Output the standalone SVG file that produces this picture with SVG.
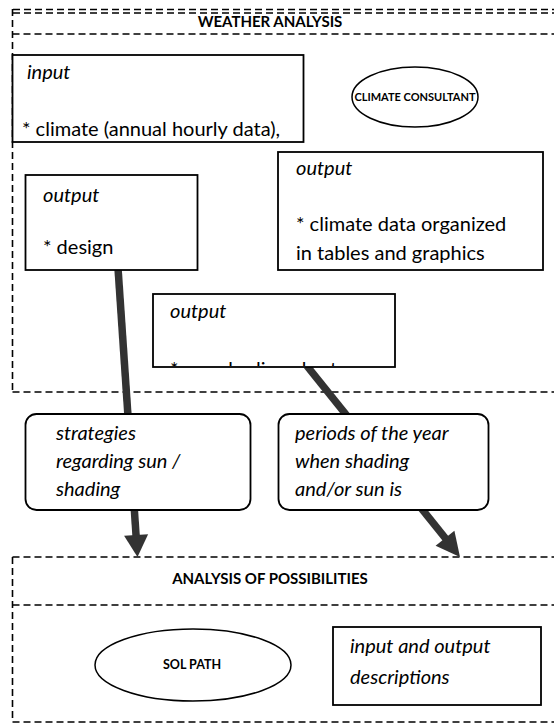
<svg xmlns="http://www.w3.org/2000/svg" width="554" height="727" viewBox="0 0 554 727">
  <style>
    .dash { fill: none; stroke: #000; stroke-width: 1.6; stroke-dasharray: 7 4; }
    .box { fill: #fff; stroke: #000; stroke-width: 1.8; }
    .ell { fill: #fff; stroke: #000; stroke-width: 1.5; }
    .title { font-family: Lato, "Liberation Sans", sans-serif; font-weight: bold; font-size: 15px; fill: #000; }
    .tool { font-family: Lato, "Liberation Sans", sans-serif; font-weight: bold; font-size: 11px; fill: #000; }
    .txt { font-family: Lato, "Liberation Sans", sans-serif; font-size: 20px; fill: #000; }
    .it { font-style: italic; }
    .conn { fill: none; stroke: #333; stroke-width: 7.5; }
    .head { fill: #333; }
  </style>
  <defs>
    <clipPath id="clipMid">
      <rect x="153" y="294" width="242" height="72"/>
    </clipPath>
  </defs>

  <rect width="554" height="727" fill="#fff"/>

  <!-- Weather analysis frame -->
  <g id="weather-analysis">
    <line class="dash" x1="13" y1="9.5" x2="554" y2="9.5"/>
    <line class="dash" x1="13" y1="13" x2="554" y2="13"/>
    <line class="dash" x1="12.5" y1="9" x2="12.5" y2="392"/>
    <line class="dash" x1="12.5" y1="34" x2="554" y2="34"/>
    <line class="dash" x1="12.5" y1="392" x2="554" y2="392"/>
    <text class="title" x="270" y="27" text-anchor="middle">WEATHER ANALYSIS</text>
  </g>

  <!-- Analysis of possibilities frame -->
  <g id="analysis-of-possibilities">
    <line class="dash" x1="12.5" y1="557" x2="554" y2="557"/>
    <line class="dash" x1="12.5" y1="557" x2="12.5" y2="722"/>
    <line class="dash" x1="12.5" y1="605" x2="554" y2="605"/>
    <line class="dash" x1="12.5" y1="722" x2="554" y2="722"/>
    <text class="title" x="270" y="584" text-anchor="middle">ANALYSIS OF POSSIBILITIES</text>
  </g>

  <!-- Connectors (drawn beneath the boxes) -->
  <g id="connectors">
    <line class="conn" x1="118" y1="268" x2="136.1" y2="536"/>
    <polygon class="head" points="124.1,535.8 148.1,534.2 137.5,557"/>
    <line class="conn" x1="307" y1="366" x2="446" y2="539"/>
    <polygon class="head" points="435.6,545.8 454.4,530.8 460,557"/>
  </g>

  <g id="input-box">
    <rect class="box" x="12.5" y="55" width="291" height="87"/>
    <text class="txt it" x="27" y="79">input</text>
    <text class="txt" x="22" y="136">* climate (annual hourly data),</text>
  </g>

  <g id="climate-consultant">
    <ellipse class="ell" cx="415" cy="97" rx="63" ry="30"/>
    <text class="tool" x="415" y="101" text-anchor="middle">CLIMATE CONSULTANT</text>
  </g>

  <g id="output-climate-data">
    <rect class="box" x="278" y="152" width="265" height="118"/>
    <text class="txt it" x="296" y="175">output</text>
    <text class="txt" x="296" y="231">* climate data organized</text>
    <text class="txt" x="296" y="260">in tables and graphics</text>
  </g>

  <g id="output-design">
    <rect class="box" x="25.5" y="175" width="172" height="95"/>
    <text class="txt it" x="43" y="202">output</text>
    <text class="txt" x="43" y="254">* design</text>
  </g>

  <g id="output-shading-chart">
    <rect class="box" x="153" y="294" width="242" height="73"/>
    <text class="txt it" x="170" y="318">output</text>
    <text class="txt" x="170" y="376" clip-path="url(#clipMid)">* sun shading chart</text>
  </g>

  <g id="strategies">
    <rect class="box" x="25.5" y="414" width="225" height="96" rx="11"/>
    <text class="txt it" x="56" y="440">strategies</text>
    <text class="txt it" x="56" y="468">regarding sun /</text>
    <text class="txt it" x="56" y="496">shading</text>
  </g>

  <g id="periods">
    <rect class="box" x="278.5" y="414" width="210" height="96" rx="11"/>
    <text class="txt it" x="295" y="440">periods of the year</text>
    <text class="txt it" x="295" y="468">when shading</text>
    <text class="txt it" x="295" y="496">and/or sun is</text>
  </g>

  <g id="sol-path">
    <ellipse class="ell" cx="193" cy="665" rx="98" ry="36"/>
    <text class="tool" x="192" y="669" text-anchor="middle" style="font-size:12.5px">SOL PATH</text>
  </g>

  <g id="io-descriptions">
    <rect class="box" x="333" y="627" width="208" height="78"/>
    <text class="txt it" x="350" y="653">input and output</text>
    <text class="txt it" x="350" y="684">descriptions</text>
  </g>
</svg>
